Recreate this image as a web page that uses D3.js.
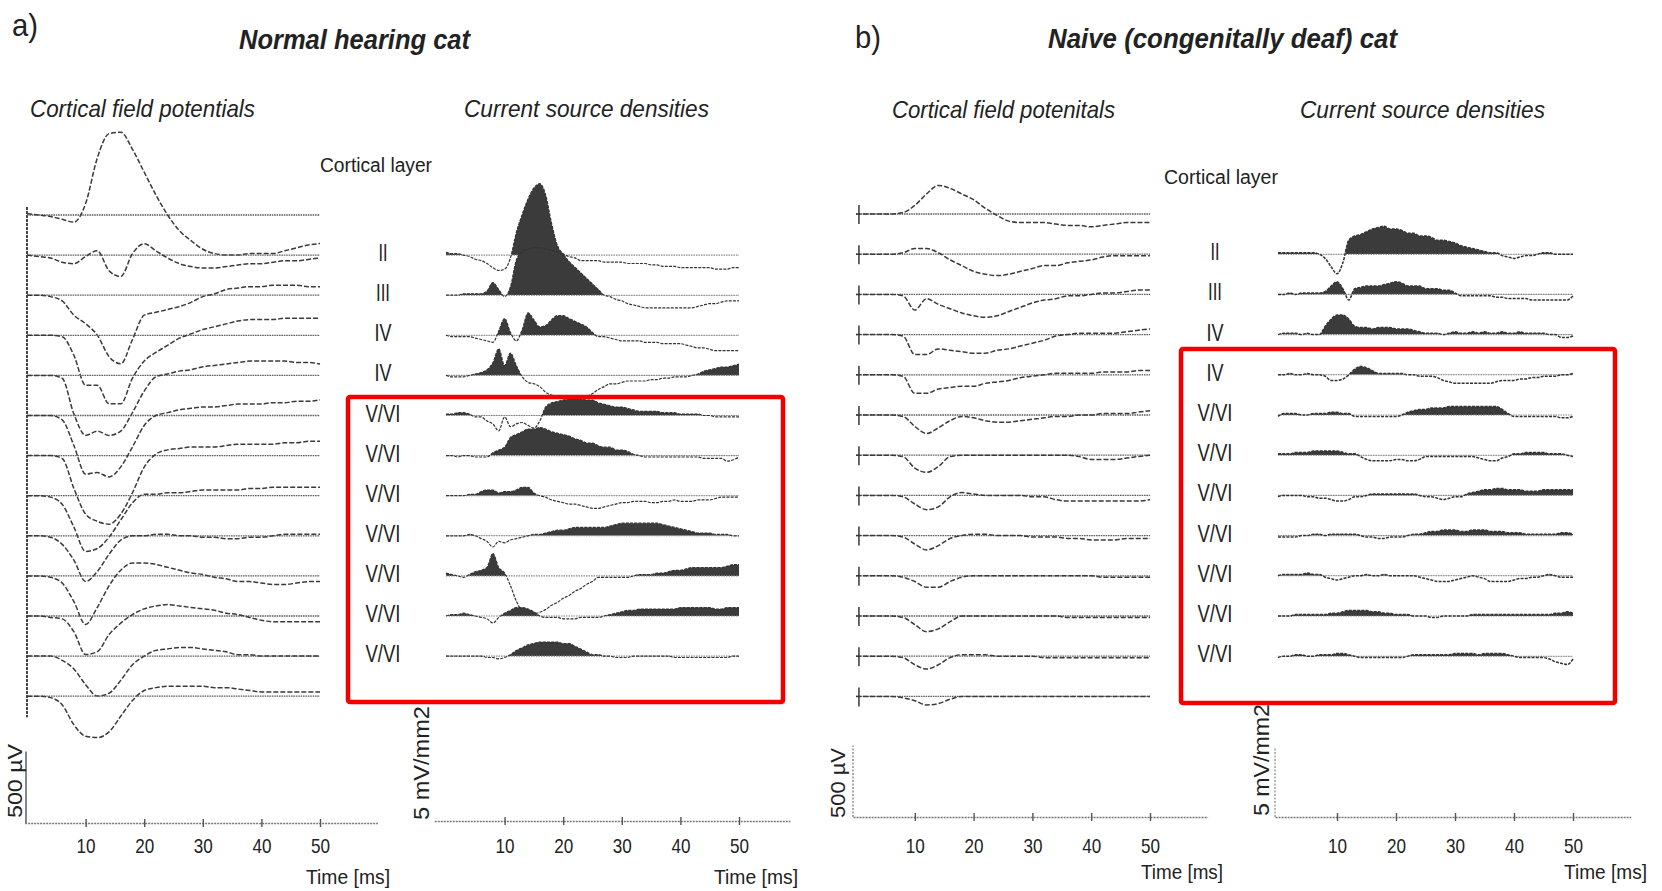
<!DOCTYPE html>
<html><head><meta charset="utf-8">
<script src="https://cdn.jsdelivr.net/npm/d3@7"></script>
<style>
html,body{margin:0;padding:0;background:#fff;}
svg{display:block;}
text{font-family:"Liberation Sans Narrow","Arial Narrow","Liberation Sans",Arial,sans-serif;fill:#222;}
</style></head><body>
<svg id="chart" width="1662" height="891"></svg>
<script>
// ---------------- DATA ----------------
// time grids (ms)
const fieldTimes = d3.range(0, 51, 2);
const csdTimes = d3.range(0, 51, 1);
const tickValues = [10, 20, 30, 40, 50];
const layerLabels = ["II", "III", "IV", "IV", "V/VI", "V/VI", "V/VI", "V/VI", "V/VI", "V/VI", "V/VI"];

// a) Normal hearing cat - cortical field potentials (µV), 13 depths
const fieldA1 = [10,0,-10,-30,-50,80,400,570,580,460,300,140,0,-110,-180,-240,-270,-280,-280,-270,-270,-270,-250,-230,-210,-200];
const fieldA2 = [0,-10,-20,-50,-60,-10,30,-110,-150,10,80,30,-20,-60,-80,-90,-90,-80,-70,-60,-60,-50,-40,-40,-30,-20];
const fieldA3 = [0,0,-10,-40,-140,-200,-280,-430,-480,-310,-140,-120,-100,-80,-50,-10,10,40,50,60,60,70,70,70,60,60];
const fieldA4 = [0,0,0,-10,-140,-350,-350,-480,-480,-300,-180,-120,-70,-20,10,40,60,80,100,110,110,110,120,120,120,120];
const fieldA5 = [0,0,0,-20,-270,-420,-390,-420,-390,-260,-110,-10,10,30,40,60,70,80,90,100,100,100,100,90,90,80];
const fieldA6 = [0,0,0,-30,-210,-410,-400,-430,-360,-220,-70,0,20,40,50,60,60,70,80,80,80,90,90,100,100,110];
const fieldA7 = [0,0,0,-20,-230,-410,-460,-480,-410,-260,-80,10,40,50,60,60,60,70,80,80,80,80,90,90,100,100];
const fieldA8 = [0,0,-10,-60,-220,-390,-370,-290,-170,-50,10,10,20,20,30,40,40,40,40,50,50,60,60,60,60,60];
const fieldA9 = [0,0,-10,-60,-170,-320,-250,-130,-30,0,0,10,10,0,0,-10,-10,-20,-20,-10,-10,0,10,10,10,10];
const fieldA10 = [0,0,-10,-50,-180,-340,-220,-70,40,90,90,80,60,40,20,10,-10,-20,-40,-40,-50,-60,-60,-50,-40,-40];
const fieldA11 = [0,0,-10,-20,-110,-270,-250,-130,-50,10,50,70,80,70,60,50,40,20,10,-10,-30,-40,-40,-40,-40,-40];
const fieldA12 = [0,0,0,-30,-90,-200,-280,-260,-170,-60,0,40,50,60,60,50,40,30,10,10,0,0,0,0,0,0];
const fieldA13 = [0,0,-10,-60,-200,-280,-290,-250,-140,-30,40,60,70,70,70,70,60,60,50,40,30,30,30,30,30,30];

// a) current source densities (mV/mm2), 11 layers
const csdA_II  = [0.2,0.1,0.1,0,-0.1,-0.3,-0.4,-0.6,-0.9,-1.1,-1.0,-0.2,1.6,2.9,4.0,4.8,5.1,4.3,2.3,0.7,0.1,-0.1,-0.2,-0.4,-0.4,-0.4,-0.4,-0.5,-0.5,-0.5,-0.5,-0.6,-0.6,-0.6,-0.6,-0.7,-0.7,-0.8,-0.8,-0.8,-0.9,-0.9,-0.9,-0.9,-0.9,-0.9,-1.0,-1.0,-1.0,-0.9,-0.9];
const csdA_III = [0,0,0,0.1,0.1,0.1,0.1,0.3,0.9,0.4,-0.1,0.6,2.5,3.1,3.3,3.4,3.4,3.3,3.2,3.1,2.9,2.4,2.0,1.6,1.2,0.8,0.4,0,-0.1,-0.3,-0.4,-0.6,-0.7,-0.8,-0.9,-0.9,-0.9,-0.9,-0.9,-0.9,-0.9,-0.9,-0.9,-0.8,-0.7,-0.6,-0.6,-0.5,-0.4,-0.4,-0.4];
const csdA_IV1 = [0,-0.1,-0.1,-0.1,-0.1,-0.2,-0.3,-0.4,-0.5,0.3,1.2,0.2,-0.4,0.4,1.6,1.1,0.6,0.7,1.1,1.4,1.4,1.2,1.0,0.8,0.6,0.2,-0.1,-0.1,-0.2,-0.3,-0.4,-0.4,-0.4,-0.4,-0.5,-0.5,-0.5,-0.6,-0.6,-0.6,-0.6,-0.7,-0.8,-0.9,-0.9,-1.0,-1.1,-1.1,-1.1,-1.1,-1.1];
const csdA_IV2 = [0,-0.1,-0.1,-0.1,0,0.1,0.2,0.4,0.9,1.9,0.7,1.6,0.7,-0.1,-0.5,-0.6,-0.8,-1.2,-1.4,-1.5,-1.6,-1.6,-1.6,-1.6,-1.5,-1.3,-1.0,-0.8,-0.6,-0.6,-0.5,-0.4,-0.4,-0.4,-0.4,-0.3,-0.3,-0.2,-0.2,-0.1,-0.1,-0.1,0,0.1,0.3,0.4,0.5,0.6,0.6,0.7,0.8];
const csdA_V1 = [0.1,0.1,0.2,0.2,0.1,-0.1,-0.1,-0.4,-0.6,-1.1,-0.1,-0.8,-0.6,-0.5,-0.7,-0.9,-0.4,0.6,0.9,1.0,1.1,1.2,1.3,1.2,1.1,1.1,0.9,0.8,0.7,0.6,0.6,0.5,0.4,0.3,0.3,0.3,0.3,0.2,0.2,0.2,0.1,0.1,0.1,0.1,0,0,-0.1,-0.1,-0.1,-0.1,-0.1];
const csdA_V2 = [0,0,-0.1,0,0,-0.1,-0.1,-0.1,0.2,0.4,0.6,1.3,1.5,1.7,1.9,1.9,2.0,1.9,1.7,1.6,1.5,1.4,1.2,1.1,0.9,0.9,0.7,0.6,0.6,0.4,0.4,0.3,0.1,0,-0.1,-0.1,-0.1,-0.1,-0.1,-0.1,-0.1,-0.1,-0.1,-0.1,-0.2,-0.2,-0.2,-0.2,-0.4,-0.3,-0.1];
const csdA_V3 = [0,0,0,0,0.1,0.1,0.3,0.4,0.4,0.2,0.3,0.3,0.4,0.6,0.6,0.2,0,-0.1,-0.3,-0.4,-0.5,-0.6,-0.6,-0.7,-0.8,-0.9,-0.9,-0.8,-0.7,-0.6,-0.5,-0.5,-0.4,-0.4,-0.4,-0.5,-0.5,-0.4,-0.4,-0.3,-0.4,-0.4,-0.4,-0.3,-0.3,-0.3,-0.2,-0.1,-0.1,-0.1,-0.1];
const csdA_V4 = [0,0,0,0,0.1,0,-0.2,-0.4,-0.8,-0.4,-0.5,-0.3,-0.2,-0.1,0,0.1,0.1,0.2,0.3,0.4,0.4,0.5,0.6,0.6,0.6,0.6,0.6,0.6,0.7,0.8,0.9,0.9,0.9,0.9,0.9,0.9,0.9,0.8,0.7,0.6,0.5,0.4,0.3,0.2,0.2,0.2,0.1,0.1,0.1,0,0];
const csdA_V5 = [0.2,0.1,0,-0.1,0.1,0.3,0.4,0.6,1.6,0.6,0.2,-0.7,-1.8,-2.5,-2.7,-2.7,-2.6,-2.4,-2.1,-1.9,-1.6,-1.4,-1.1,-0.9,-0.6,-0.4,-0.1,-0.1,-0.1,-0.1,-0.1,-0.1,0,0.1,0.1,0.1,0.2,0.2,0.3,0.4,0.4,0.5,0.6,0.6,0.6,0.6,0.6,0.6,0.7,0.8,0.8];
const csdA_V6 = [0,0.1,0.1,0.2,0.1,0,-0.1,-0.2,-0.5,-0.1,0.2,0.4,0.6,0.6,0.5,0.3,0,-0.1,-0.1,-0.1,-0.2,-0.2,-0.2,-0.1,-0.1,-0.1,-0.1,0,0.1,0.2,0.3,0.4,0.4,0.5,0.5,0.5,0.5,0.5,0.5,0.5,0.6,0.6,0.6,0.6,0.6,0.6,0.5,0.5,0.6,0.6,0.6];
const csdA_V7 = [0,0,0,0,0,0,0,-0.1,-0.1,-0.2,-0.1,0.1,0.4,0.6,0.8,0.9,1.0,1.0,1.0,1.0,0.9,0.9,0.7,0.5,0.3,0.1,0.1,0,0,-0.1,-0.1,-0.1,0,0,0,0,0,0,0,-0.1,-0.1,-0.1,-0.1,-0.1,-0.1,-0.1,-0.1,-0.1,-0.1,0,0];

// b) Naive (congenitally deaf) cat - cortical field potentials (µV)
const fieldB1 = [0,0,0,0,10,60,140,200,180,140,100,40,-10,-50,-60,-60,-60,-70,-80,-80,-90,-80,-70,-60,-60,-60];
const fieldB2 = [0,0,0,0,10,40,40,10,-40,-80,-120,-140,-150,-140,-120,-100,-80,-80,-60,-50,-40,-20,-10,-10,-10,-10];
const fieldB3 = [0,0,0,0,-10,-110,-30,-70,-100,-130,-150,-160,-150,-120,-90,-60,-40,-30,-10,-10,0,10,10,20,30,30];
const fieldB4 = [0,0,0,0,-10,-140,-140,-100,-110,-120,-130,-130,-110,-100,-80,-60,-40,-10,0,10,10,10,10,20,30,40];
const fieldB5 = [0,0,0,0,-10,-130,-130,-100,-90,-80,-80,-60,-50,-40,-20,-10,0,10,10,10,10,20,20,20,30,30];
const fieldB6 = [0,0,0,0,-10,-80,-130,-90,-40,-10,-20,-40,-50,-50,-40,-30,-20,-10,-10,0,0,10,10,10,20,30];
const fieldB7 = [0,0,0,0,-10,-90,-120,-80,-10,0,0,0,0,0,0,0,0,0,0,-10,-30,-30,-30,-20,-10,0];
const fieldB8 = [0,0,0,0,-10,-60,-100,-80,-10,20,10,0,0,0,0,-10,-10,-30,-40,-40,-40,-40,-40,-40,-40,-30];
const fieldB9 = [0,0,0,0,-10,-60,-100,-70,-20,0,10,10,0,0,0,-10,-10,-10,-20,-20,-30,-30,-30,-20,-20,-20];
const fieldB10 = [0,0,0,0,-10,-40,-80,-80,-40,-10,0,0,0,0,0,0,0,0,0,0,0,-10,-10,-10,-10,-10];
const fieldB11 = [0,0,0,0,-10,-60,-110,-90,-40,0,0,0,0,0,0,0,0,0,-10,-10,-10,-10,-10,-10,-10,-10];
const fieldB12 = [0,0,0,0,-10,-60,-90,-60,-10,10,10,10,0,0,0,0,-10,-10,-10,-10,-10,-10,-10,-10,-10,-10];
const fieldB13 = [0,0,0,0,-10,-30,-60,-50,-20,0,0,0,0,0,0,0,0,0,0,0,0,0,0,0,0,0];

// b) current source densities (mV/mm2)
const csdB_II  = [0.1,0.1,0.1,0.1,0.1,0.1,0.1,0,-0.3,-0.9,-1.4,-0.6,1.0,1.3,1.4,1.6,1.8,1.9,2.0,1.8,1.8,1.7,1.5,1.5,1.3,1.3,1.2,1.0,1.0,0.9,0.8,0.6,0.5,0.4,0.3,0.2,0.1,0.1,-0.1,-0.2,-0.3,-0.2,-0.1,-0.1,0,0.1,0.1,0,0,0,0];
const csdB_III = [0,0,0.1,0,0.1,0.1,0.1,0.1,0.2,0.6,0.9,0.4,-0.4,0.4,0.5,0.6,0.6,0.6,0.7,0.8,0.9,0.8,0.6,0.6,0.6,0.4,0.4,0.4,0.3,0.3,0.1,-0.1,-0.1,-0.1,-0.1,-0.1,-0.1,-0.2,-0.2,-0.3,-0.3,-0.3,-0.3,-0.4,-0.4,-0.4,-0.4,-0.4,-0.4,-0.4,-0.1];
const csdB_IV1 = [0,0.1,0.1,0.1,0,0.1,0,0,0.6,1.1,1.4,1.4,1.1,0.6,0.5,0.5,0.4,0.5,0.5,0.5,0.4,0.4,0.4,0.3,0.2,0.1,0.1,0.1,0,0.1,0.2,0.1,0.1,0.2,0.1,0.2,0.1,0.1,0.2,0.1,0.1,0.2,0.1,0.1,0.1,0.1,0,0,-0.2,-0.2,-0.1];
const csdB_IV2 = [0,0,0.1,0,0,0.1,0,0,-0.1,-0.4,-0.4,-0.3,0,0.4,0.6,0.5,0.3,0.1,0.1,0.1,0.1,0.1,0,0,-0.1,-0.1,-0.1,-0.2,-0.4,-0.5,-0.6,-0.6,-0.6,-0.6,-0.6,-0.6,-0.6,-0.5,-0.4,-0.4,-0.4,-0.3,-0.3,-0.2,-0.2,-0.1,-0.1,-0.1,0,0,0.1];
const csdB_V1 = [-0.1,0.1,0.1,0.1,0,0,0.1,0.1,0.1,0.2,0.2,0.1,0.1,-0.1,-0.1,-0.1,-0.1,-0.1,-0.1,-0.1,-0.1,0,0.2,0.3,0.4,0.4,0.5,0.5,0.5,0.6,0.6,0.6,0.6,0.6,0.6,0.6,0.6,0.6,0.4,0.1,-0.1,-0.1,-0.1,-0.1,-0.1,-0.1,-0.1,-0.1,-0.2,-0.2,-0.1];
const csdB_V2 = [0.1,0.1,0.1,0.2,0.2,0.2,0.3,0.3,0.3,0.3,0.3,0.2,0.1,0.1,-0.1,-0.3,-0.4,-0.4,-0.4,-0.4,-0.3,-0.3,-0.4,-0.4,-0.3,-0.1,-0.1,-0.1,-0.1,-0.1,-0.1,-0.1,-0.1,-0.1,-0.2,-0.3,-0.4,-0.4,-0.2,-0.1,0.1,0.1,0.2,0.2,0.2,0.2,0.1,0.1,0.1,0,-0.1];
const csdB_V3 = [-0.1,0,0,0,0,-0.1,-0.1,-0.2,-0.2,-0.3,-0.4,-0.4,-0.3,-0.1,-0.1,0,0.1,0.1,0.1,0.1,0.1,0.1,0.1,0.1,0,-0.1,-0.1,-0.2,-0.3,-0.2,-0.1,-0.1,0.1,0.2,0.3,0.4,0.4,0.5,0.5,0.4,0.4,0.4,0.3,0.3,0.3,0.4,0.4,0.4,0.4,0.4,0.4];
const csdB_V4 = [-0.1,-0.1,-0.1,-0.1,0,0,0.1,0.1,0,0.1,0.1,0.1,0.1,0.1,0,-0.1,-0.1,-0.2,-0.2,-0.1,-0.1,-0.1,0,0.1,0.1,0.2,0.3,0.3,0.4,0.4,0.4,0.3,0.3,0.4,0.4,0.4,0.3,0.3,0.3,0.2,0.2,0.2,0.1,0.1,0.1,0.1,0.1,0.1,0.2,0.2,0.1];
const csdB_V5 = [0,0.1,0.1,0.1,0.1,0.2,0.1,0.1,-0.1,-0.2,-0.3,-0.2,-0.1,0,0,0.1,0,0,0.1,0,0,0,0,0,-0.1,-0.2,-0.3,-0.4,-0.4,-0.4,-0.3,-0.2,-0.1,0,-0.1,-0.2,-0.4,-0.4,-0.4,-0.4,-0.3,-0.2,-0.2,-0.1,-0.1,0,0.1,0,-0.1,-0.1,-0.1];
const csdB_V6 = [0,0,0,0.1,0.1,0.1,0.1,0.1,0.1,0.2,0.2,0.3,0.4,0.4,0.4,0.4,0.3,0.3,0.2,0.2,0.1,0.1,0.1,0,0,0,-0.1,-0.1,0,0,0,0,0,0.1,0.1,0.1,0.1,0.1,0.1,0.1,0.1,0.1,0.1,0.1,0.1,0.1,0.1,0.2,0.2,0.3,0.2];
const csdB_V7 = [-0.1,0,0,0.1,0.1,0,0,0.1,0.1,0.1,0.2,0.2,0.1,0,-0.1,-0.1,-0.1,-0.1,-0.1,-0.1,-0.1,-0.1,0,0.1,0.1,0.1,0.1,0.1,0.1,0.1,0.2,0.2,0.2,0.2,0.1,0.2,0.2,0.2,0.2,0.1,0,-0.1,-0.1,-0.1,-0.1,-0.1,-0.2,-0.4,-0.5,-0.6,-0.2];

const fieldA = [fieldA1,fieldA2,fieldA3,fieldA4,fieldA5,fieldA6,fieldA7,fieldA8,fieldA9,fieldA10,fieldA11,fieldA12,fieldA13];
const csdA = [csdA_II,csdA_III,csdA_IV1,csdA_IV2,csdA_V1,csdA_V2,csdA_V3,csdA_V4,csdA_V5,csdA_V6,csdA_V7];
const fieldB = [fieldB1,fieldB2,fieldB3,fieldB4,fieldB5,fieldB6,fieldB7,fieldB8,fieldB9,fieldB10,fieldB11,fieldB12,fieldB13];
const csdB = [csdB_II,csdB_III,csdB_IV1,csdB_IV2,csdB_V1,csdB_V2,csdB_V3,csdB_V4,csdB_V5,csdB_V6,csdB_V7];

// ---------------- DRAWING ----------------
const svg = d3.select('#chart');
const defs = svg.append('defs');
svg.append('rect').attr('width',1662).attr('height',891).attr('fill','#fff');

const fieldAmp = d3.scaleLinear().domain([0, 500]).range([0, 71.4]);   // 500 µV bar
const csdAmp = d3.scaleLinear().domain([0, 5]).range([0, 70]);         // 5 mV/mm2 bar

const panels = [
  { id:'a',
    rowY: d3.scaleLinear().domain([0,12]).range([215,696.2]),
    xF: d3.scaleLinear().domain([0,50]).range([27,320]),
    xC: d3.scaleLinear().domain([0,50]).range([446,739]),
    field: fieldA, csd: csdA, layerX: 383, startMarks:false,
    axF: {y:823, lo:-0.4, hi:59.8}, axC: {y:821, lo:-2, hi:58.7}, labelY: 853,
    barF: {x:26}, barC: null },
  { id:'b',
    rowY: d3.scaleLinear().domain([0,12]).range([214,696.4]),
    xF: d3.scaleLinear().domain([0,50]).range([856,1150]),
    xC: d3.scaleLinear().domain([0,50]).range([1278,1573]),
    field: fieldB, csd: csdB, layerX: 1215, startMarks:true,
    axF: {y:817, lo:-0.5, hi:59.8}, axC: {y:817, lo:-0.5, hi:59.8}, labelY: 853,
    barF: {x:853}, barC: {x:1275} }
];

const fieldLine = d3.line().curve(d3.curveMonotoneX);
const csdLine = d3.line().curve(d3.curveMonotoneX);

panels.forEach(P => {
  const g = svg.append('g').attr('class','panel-'+P.id);
  // field potentials
  if (!P.startMarks) {
    g.append('line').attr('x1',P.xF(0)).attr('x2',P.xF(0))
      .attr('y1',P.rowY(0)-8).attr('y2',P.rowY(12)+21)
      .attr('stroke','#444').attr('stroke-width',2).attr('stroke-dasharray','3,1');
  }
  P.field.forEach((vals,i) => {
    const y0 = P.rowY(i);
    g.append('line').attr('x1',P.xF(0)).attr('x2',P.xF(50)).attr('y1',y0).attr('y2',y0)
      .attr('stroke','#5e5e5e').attr('stroke-width',1.3).attr('stroke-dasharray','1.6,0.8');
    if (P.startMarks) {
      g.append('line').attr('x1',P.xF(0.5)).attr('x2',P.xF(0.5)).attr('y1',y0-9).attr('y2',y0+10)
        .attr('stroke','#444').attr('stroke-width',1.6);
    }
    const pts = fieldTimes.map((t,k) => [P.xF(t), y0 - fieldAmp(vals[k])]);
    g.append('path').attr('d', fieldLine(pts)).attr('fill','none')
      .attr('stroke','#3a3a3a').attr('stroke-width',1.5).attr('stroke-dasharray','5,2');
  });
  // current source densities
  P.csd.forEach((vals,j) => {
    const y0 = P.rowY(j+1);
    const pts = csdTimes.map((t,k) => [P.xC(t), y0 - csdAmp(vals[k])]);
    const cid = 'clip-'+P.id+'-'+j;
    defs.append('clipPath').attr('id',cid).append('rect')
      .attr('x',P.xC(0)-1).attr('y',y0-160).attr('width',P.xC(50)-P.xC(0)+2).attr('height',160);
    const area = d3.area().x(d=>d[0]).y0(y0).y1(d=>d[1]).curve(d3.curveMonotoneX);
    g.append('path').attr('d', area(pts)).attr('fill','#3b3b3b').attr('clip-path',`url(#${cid})`);
    g.append('line').attr('x1',P.xC(0)).attr('x2',P.xC(50)).attr('y1',y0).attr('y2',y0)
      .attr('stroke','#888').attr('stroke-width',1.1).attr('stroke-dasharray','1.5,1');
    g.append('path').attr('d', csdLine(pts)).attr('fill','none')
      .attr('stroke','#333').attr('stroke-width',P.id==='b'?1.5:1.2).attr('stroke-dasharray','3,1.2');
    g.append('text').attr('x',P.layerX).attr('y',y0+6).attr('text-anchor','middle')
      .attr('font-size',23).attr('fill','#333')
      .attr('textLength', {"II":9,"III":14,"IV":17,"V/VI":35}[layerLabels[j]])
      .attr('lengthAdjust','spacingAndGlyphs')
      .text(layerLabels[j]);
  });
  // axes
  [[P.xF,P.axF],[P.xC,P.axC]].forEach(([xs,A]) => {
    const s = d3.scaleLinear().domain([A.lo,A.hi]).range([xs(A.lo),xs(A.hi)]);
    const ax = d3.axisBottom(s).tickValues(tickValues).tickSizeInner(8).tickSizeOuter(0).tickPadding(6);
    const ag = svg.append('g').attr('transform',`translate(0,${A.y})`).call(ax);
    ag.select('.domain').attr('stroke','#777').attr('stroke-width',1.4).attr('stroke-dasharray','2,1');
    ag.selectAll('.tick line').attr('y1',-4).attr('y2',4).attr('stroke','#555').attr('stroke-width',1.4);
    ag.selectAll('.tick text').attr('y',P.labelY-A.y).attr('dy',0)
      .attr('font-size',21).attr('fill','#333')
      .attr('textLength',19).attr('lengthAdjust','spacingAndGlyphs')
      .attr('font-family','"Liberation Sans Narrow","Arial Narrow","Liberation Sans",Arial,sans-serif');
  });
  // scale bars
  svg.append('line').attr('x1',P.barF.x).attr('x2',P.barF.x)
    .attr('y1',P.axF.y).attr('y2',P.axF.y - fieldAmp(500))
    .attr('stroke', P.id==='a' ? '#555' : '#888').attr('stroke-width',1.4).attr('stroke-dasharray', P.id==='a' ? null : '2,1.5');
  if (P.barC) {
    svg.append('line').attr('x1',P.barC.x).attr('x2',P.barC.x)
      .attr('y1',P.axC.y).attr('y2',P.axC.y - csdAmp(5))
      .attr('stroke','#888').attr('stroke-width',1.2).attr('stroke-dasharray','2,1.5');
  }
});

// ---------------- TEXT ----------------
function txt(x, y, s, o) {
  o = o || {};
  const t = svg.append('text').attr('x',x).attr('y',y).text(s)
    .attr('font-size', o.size || 20).attr('text-anchor', o.anchor || 'start').attr('fill', o.fill || '#222');
  if (o.italic) t.attr('font-style','italic');
  if (o.bold) t.attr('font-weight','bold');
  if (o.len) t.attr('textLength',o.len).attr('lengthAdjust','spacingAndGlyphs');
  if (o.rot) t.attr('dominant-baseline','central').attr('transform',`rotate(-90 ${x} ${y})`);
  return t;
}
txt(12, 36, 'a)', {size:32, len:26});
txt(239, 49, 'Normal hearing cat', {size:28, bold:true, italic:true, len:231});
txt(30, 117, 'Cortical field potentials', {size:24, italic:true, len:225});
txt(464, 117, 'Current source densities', {size:24, italic:true, len:245});
txt(320, 172, 'Cortical layer', {size:20, len:112});

txt(855, 48, 'b)', {size:32, len:26});
txt(1048, 48, 'Naive (congenitally deaf) cat', {size:28, bold:true, italic:true, len:349});
txt(892, 118, 'Cortical field potenitals', {size:24, italic:true, len:223});
txt(1300, 118, 'Current source densities', {size:24, italic:true, len:245});
txt(1164, 184, 'Cortical layer', {size:20, len:114});

txt(14, 781, '500 µV', {size:21, anchor:'middle', rot:true, len:74, fill:'#333'});
txt(421, 763, '5 mV/mm2', {size:22, anchor:'middle', rot:true, len:114, fill:'#333'});
txt(837, 783, '500 µV', {size:21, anchor:'middle', rot:true, len:70, fill:'#333'});
txt(1261, 760, '5 mV/mm2', {size:22, anchor:'middle', rot:true, len:112, fill:'#333'});

txt(306, 884, 'Time [ms]', {size:21, len:84, fill:'#333'});
txt(714, 884, 'Time [ms]', {size:21, len:84, fill:'#333'});
txt(1141, 879, 'Time [ms]', {size:21, len:82, fill:'#333'});
txt(1564, 879, 'Time [ms]', {size:21, len:83, fill:'#333'});

// ---------------- HIGHLIGHT BOXES ----------------
svg.append('rect').attr('x',348).attr('y',397).attr('width',435).attr('height',305)
  .attr('rx',2).attr('fill','none').attr('stroke','#f20000').attr('stroke-width',4.5);
svg.append('rect').attr('x',1181).attr('y',349).attr('width',434).attr('height',354)
  .attr('rx',2).attr('fill','none').attr('stroke','#f20000').attr('stroke-width',4.5);
</script>
</body></html>
